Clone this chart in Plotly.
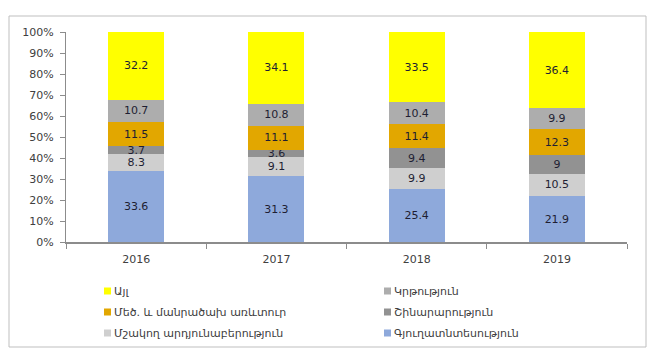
import plotly.graph_objects as go

years = ["2016", "2017", "2018", "2019"]

# series, bottom to top of the stack
series_names = [
    "Գյուղատնտեսություն",
    "Մշակող արդյունաբերություն",
    "Շինարարություն",
    "Մեծ. և մանրածախ առևտուր",
    "Կրթություն",
    "Այլ",
]
agriculture = [33.6, 31.3, 25.4, 21.9]
manufacturing = [8.3, 9.1, 9.9, 10.5]
construction = [3.7, 3.6, 9.4, 9.0]
trade = [11.5, 11.1, 11.4, 12.3]
education = [10.7, 10.8, 10.4, 9.9]
other = [32.2, 34.1, 33.5, 36.4]
series_values = [agriculture, manufacturing, construction, trade, education, other]
value_labels = [
    ["33.6", "31.3", "25.4", "21.9"],
    ["8.3", "9.1", "9.9", "10.5"],
    ["3.7", "3.6", "9.4", "9"],
    ["11.5", "11.1", "11.4", "12.3"],
    ["10.7", "10.8", "10.4", "9.9"],
    ["32.2", "34.1", "33.5", "36.4"],
]
colors = ["#8EA9DB", "#CFCFCF", "#929292", "#E2A700", "#ADADAD", "#FFFF00"]

y_ticks = list(range(0, 101, 10))
y_tick_labels = [f"{v}%" for v in y_ticks]

FONT = "DejaVu Sans"
OFF = 8  # page body margin
W, H = 663 - OFF, 363 - OFF
ML, MT = 66 - OFF, 32 - OFF
PW, PH = 561, 210
MR, MB = W - ML - PW, H - MT - PH


def px_x(px):
    return (px - OFF - ML) / PW


def px_y(py):
    return (MT + PH - (py - OFF)) / PH


fig = go.Figure()
for name, vals, labs, col in zip(series_names, series_values, value_labels, colors):
    fig.add_trace(go.Bar(
        x=years, y=vals, name=name, text=labs,
        textposition="inside", insidetextanchor="middle", textangle=0,
        constraintext="none",
        textfont=dict(family=FONT, size=11, color="#1E1E32"),
        marker=dict(color=col, line=dict(width=0)),
        showlegend=False,
    ))

# legend drawn in two columns, reversed stacking order
shapes = []
annotations = []
legend_order = list(zip(series_names, colors))[::-1]
col_sq_x = [104, 384]
row_y = [291, 312, 333]
for i, (name, col) in enumerate(legend_order):
    r, c = divmod(i, 2)
    cx, cy = col_sq_x[c], row_y[r]
    shapes.append(dict(type="rect", xref="paper", yref="paper",
                       x0=px_x(cx), x1=px_x(cx + 7), y0=px_y(cy + 3.5), y1=px_y(cy - 3.5),
                       fillcolor=col, line=dict(width=0)))
    annotations.append(dict(xref="paper", yref="paper", x=px_x(cx + 8), y=px_y(cy),
                            xanchor="left", yanchor="middle", showarrow=False,
                            text=name, font=dict(family=FONT, size=11, color="#404040")))

# outer frame
shapes.append(dict(type="rect", xref="paper", yref="paper",
                   x0=px_x(9), x1=px_x(646), y0=px_y(347), y1=px_y(16),
                   line=dict(color="#BFBFBF", width=1), fillcolor="rgba(0,0,0,0)", layer="below"))

fig.update_layout(
    width=W, height=H,
    margin=dict(l=ML, r=MR, t=MT, b=MB),
    barmode="stack", bargap=0.6,
    plot_bgcolor="white", paper_bgcolor="white",
    font=dict(family=FONT, size=11, color="#404040"),
    uniformtext=dict(minsize=11, mode="show"),
    shapes=shapes, annotations=annotations,
    xaxis=dict(showgrid=False, showline=True, linecolor="#8C8C8C", linewidth=2,
               ticks="outside", tickson="boundaries", ticklen=5, tickcolor="#8C8C8C",
               ticklabelstandoff=6,
               tickfont=dict(family=FONT, size=11, color="#404040")),
    yaxis=dict(range=[0, 100], tickmode="array", tickvals=y_ticks, ticktext=y_tick_labels,
               showgrid=False, showline=True, linecolor="#8C8C8C", linewidth=1,
               ticks="outside", ticklen=5, tickcolor="#8C8C8C", zeroline=False,
               ticklabelstandoff=4,
               tickfont=dict(family=FONT, size=11, color="#404040")),
)

fig.write_html("out.html")
